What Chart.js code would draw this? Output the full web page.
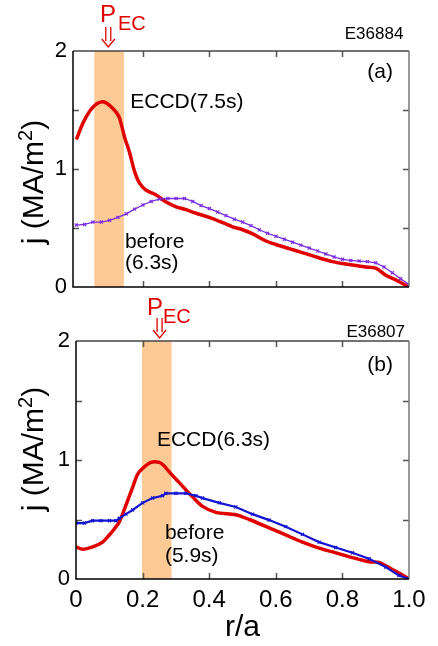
<!DOCTYPE html>
<html>
<head>
<meta charset="utf-8">
<script src="https://cdn.jsdelivr.net/npm/chart.js@4.4.1/dist/chart.umd.min.js"></script>
<style>
  body { margin: 0; background: #fff; }
  #wrap { position: relative; width: 438px; height: 646px; }
  canvas { position: absolute; left: 0; }
</style>
</head>
<body>
<div id="wrap">
  <canvas id="chartA" width="438" height="310" style="top:0"></canvas>
  <canvas id="chartB" width="438" height="353" style="top:293px"></canvas>
</div>
<script>
// radial profiles of current density, r/a vs j (MA/m2)
const rEccdA = [0, 0.02, 0.04, 0.06, 0.08, 0.10, 0.12, 0.13, 0.145, 0.16, 0.175, 0.19, 0.21, 0.24, 0.27, 0.30, 0.33, 0.36, 0.40, 0.44, 0.47, 0.50, 0.53, 0.57, 0.60, 0.64, 0.67, 0.72, 0.77, 0.82, 0.87, 0.90, 0.93, 0.96, 0.98, 1.0];
const jEccdA = [1.25, 1.39, 1.49, 1.55, 1.57, 1.54, 1.48, 1.43, 1.27, 1.14, 0.98, 0.88, 0.82, 0.78, 0.72, 0.68, 0.655, 0.625, 0.59, 0.545, 0.51, 0.485, 0.45, 0.39, 0.36, 0.325, 0.30, 0.255, 0.215, 0.19, 0.17, 0.16, 0.10, 0.06, 0.03, 0.0];

const rBeforeA = [0, 0.025, 0.05, 0.075, 0.10, 0.125, 0.15, 0.175, 0.20, 0.225, 0.25, 0.275, 0.30, 0.325, 0.35, 0.375, 0.40, 0.425, 0.45, 0.475, 0.50, 0.525, 0.55, 0.575, 0.60, 0.625, 0.65, 0.675, 0.70, 0.725, 0.75, 0.775, 0.80, 0.825, 0.85, 0.875, 0.90, 0.925, 0.95, 0.975, 1.0];
const jBeforeA = [0.525, 0.53, 0.55, 0.55, 0.565, 0.59, 0.62, 0.66, 0.695, 0.725, 0.745, 0.75, 0.75, 0.75, 0.725, 0.69, 0.665, 0.635, 0.605, 0.575, 0.55, 0.52, 0.485, 0.455, 0.43, 0.405, 0.38, 0.355, 0.33, 0.305, 0.28, 0.255, 0.235, 0.225, 0.22, 0.215, 0.205, 0.17, 0.12, 0.07, 0.02];

const rEccdB = [0, 0.02, 0.05, 0.08, 0.10, 0.115, 0.13, 0.15, 0.17, 0.185, 0.20, 0.225, 0.25, 0.265, 0.28, 0.31, 0.35, 0.38, 0.42, 0.48, 0.52, 0.58, 0.63, 0.68, 0.73, 0.78, 0.83, 0.88, 0.91, 0.95, 0.97, 1.0];
const jEccdB = [0.27, 0.25, 0.27, 0.31, 0.37, 0.42, 0.48, 0.62, 0.77, 0.88, 0.93, 0.98, 0.98, 0.95, 0.90, 0.81, 0.69, 0.61, 0.56, 0.54, 0.50, 0.43, 0.37, 0.31, 0.26, 0.22, 0.18, 0.145, 0.14, 0.08, 0.05, 0.0];

const rBeforeB = [0, 0.025, 0.05, 0.075, 0.10, 0.12, 0.13, 0.15, 0.17, 0.20, 0.23, 0.26, 0.27, 0.30, 0.33, 0.36, 0.38, 0.43, 0.48, 0.53, 0.58, 0.63, 0.68, 0.73, 0.78, 0.83, 0.88, 0.93, 0.97, 1.0];
const jBeforeB = [0.47, 0.47, 0.49, 0.49, 0.49, 0.49, 0.51, 0.545, 0.58, 0.64, 0.68, 0.70, 0.72, 0.72, 0.72, 0.70, 0.68, 0.64, 0.605, 0.545, 0.495, 0.44, 0.375, 0.31, 0.265, 0.22, 0.17, 0.10, 0.03, 0.0];

// EC deposition zones (r/a)
const bandA = [0.054, 0.143];
const bandB = [0.198, 0.287];

const xTicks = [0, 0.2, 0.4, 0.6, 0.8, 1.0];
const yTicks = [0, 0.5, 1, 1.5, 2];

const FONT = "'Liberation Sans', Arial, sans-serif";
const RED = '#e00000';

function pts(xs, ys) {
  return xs.map((x, i) => ({ x: x, y: ys[i] }));
}

// rotated axis title with a raised "2"
function drawYTitle(ctx, cx, cy) {
  const parts = [['j (MA/m', 30, 0], ['2', 20, -11], [')', 30, 0]];
  ctx.save();
  ctx.translate(cx, cy);
  ctx.rotate(-Math.PI / 2);
  ctx.fillStyle = '#000';
  ctx.textBaseline = 'alphabetic';
  ctx.textAlign = 'left';
  let w = 0;
  parts.forEach(p => { ctx.font = p[1] + 'px ' + FONT; w += ctx.measureText(p[0]).width; });
  let x = -w / 2;
  parts.forEach(p => {
    ctx.font = p[1] + 'px ' + FONT;
    ctx.fillText(p[0], x, 10 + p[2]);
    x += ctx.measureText(p[0]).width;
  });
  ctx.restore();
}

// frame, inward ticks, shaded band and text labels
const decor = {
  id: 'decor',
  beforeDatasetsDraw(chart, args, opts) {
    const { ctx, chartArea: a, scales: { x } } = chart;
    const x0 = x.getPixelForValue(opts.band[0]);
    const x1 = x.getPixelForValue(opts.band[1]);
    ctx.save();
    ctx.fillStyle = '#fdc994';
    ctx.fillRect(x0, a.top, x1 - x0, a.bottom - a.top);
    ctx.restore();
  },
  afterDraw(chart, args, opts) {
    const { ctx, chartArea: a, scales: { x, y } } = chart;
    ctx.save();
    ctx.lineWidth = 1.5;
    const tl = 6;
    ctx.strokeStyle = '#555';
    xTicks.forEach(v => {
      if (v <= 0 || v >= 1) return;
      const px = Math.round(x.getPixelForValue(v)) + 0.5;
      ctx.beginPath();
      ctx.moveTo(px, a.bottom); ctx.lineTo(px, a.bottom - tl);
      ctx.moveTo(px, a.top); ctx.lineTo(px, a.top + tl);
      ctx.stroke();
    });
    yTicks.forEach(v => {
      if (v <= 0 || v >= 2) return;
      const py = Math.round(y.getPixelForValue(v)) + 0.5;
      ctx.beginPath();
      ctx.moveTo(a.left, py); ctx.lineTo(a.left + tl, py);
      ctx.moveTo(a.right, py); ctx.lineTo(a.right - tl, py);
      ctx.stroke();
    });
    // top / right in grey, left / bottom in black
    ctx.strokeStyle = '#444';
    ctx.beginPath(); ctx.moveTo(a.left, a.top); ctx.lineTo(a.right, a.top); ctx.stroke();
    ctx.strokeStyle = '#777';
    ctx.beginPath(); ctx.moveTo(a.right, a.top); ctx.lineTo(a.right, a.bottom); ctx.stroke();
    ctx.strokeStyle = '#000';
    ctx.beginPath(); ctx.moveTo(a.left, a.top); ctx.lineTo(a.left, a.bottom); ctx.lineTo(a.right, a.bottom); ctx.stroke();

    drawYTitle(ctx, 33, a.top + opts.titleOffset);

    // text labels placed in data coordinates
    ctx.textBaseline = 'alphabetic';
    opts.labels.forEach(l => {
      ctx.font = l.size + 'px ' + FONT;
      ctx.fillStyle = l.color || '#000';
      ctx.textAlign = l.align || 'left';
      ctx.fillText(l.text, x.getPixelForValue(l.x), y.getPixelForValue(l.y));
    });

    // double arrow marking the EC launch
    const ar = opts.arrow;
    const cx = x.getPixelForValue(ar.x);
    const yt = y.getPixelForValue(ar.y0);
    const yb = y.getPixelForValue(ar.y1);
    ctx.strokeStyle = RED;
    ctx.lineWidth = 1.3;
    ctx.beginPath();
    ctx.moveTo(cx - 2.5, yt); ctx.lineTo(cx - 2.5, yb - 6);
    ctx.moveTo(cx + 2.5, yt); ctx.lineTo(cx + 2.5, yb - 6);
    ctx.moveTo(cx - 6.5, yb - 8); ctx.lineTo(cx, yb); ctx.lineTo(cx + 6.5, yb - 8);
    ctx.stroke();
    ctx.restore();
  }
};

function makePanel(id, cfg) {
  return new Chart(document.getElementById(id), {
    type: 'line',
    data: {
      datasets: [
        {
          data: pts(cfg.rBefore, cfg.jBefore),
          borderColor: cfg.beforeColor,
          borderWidth: cfg.beforeWidth,
          pointStyle: 'crossRot',
          pointRadius: 2.2,
          pointBorderWidth: 1.2,
          pointBorderColor: cfg.beforeColor,
          tension: 0,
          fill: false
        },
        {
          data: pts(cfg.rEccd, cfg.jEccd),
          borderColor: RED,
          borderWidth: 3.5,
          pointRadius: 0,
          tension: 0.3,
          fill: false
        }
      ]
    },
    options: {
      responsive: false,
      animation: false,
      events: [],
      layout: { padding: cfg.padding },
      plugins: {
        legend: { display: false },
        tooltip: { enabled: false },
        decor: { band: cfg.band, labels: cfg.labels, arrow: cfg.arrow, titleOffset: cfg.titleOffset }
      },
      scales: {
        x: {
          type: 'linear',
          min: cfg.xMin,
          max: 1,
          display: cfg.showX,
          afterBuildTicks: s => { s.ticks = xTicks.map(v => ({ value: v })); },
          afterFit: s => { s.height = cfg.xHeight; },
          grid: { display: false, drawTicks: false },
          border: { display: false },
          ticks: {
            padding: 7,
            color: '#000',
            font: { family: FONT, size: 24 },
            callback: v => v === 0 ? '0' : v.toFixed(1)
          },
          title: {
            display: true,
            text: 'r/a',
            color: '#000',
            padding: { top: 0, bottom: 0 },
            font: { family: FONT, size: 30 }
          }
        },
        y: {
          min: 0,
          max: 2,
          afterBuildTicks: s => { s.ticks = yTicks.map(v => ({ value: v })); },
          afterFit: s => { s.width = cfg.yWidth; },
          grid: { display: false, drawTicks: false },
          border: { display: false },
          ticks: {
            padding: 6,
            color: '#000',
            font: { family: FONT, size: 22 },
            callback: v => Number.isInteger(v) ? String(v) : ''
          }
        }
      }
    },
    plugins: [decor]
  });
}

makePanel('chartA', {
  rEccd: rEccdA, jEccd: jEccdA,
  rBefore: rBeforeA, jBefore: jBeforeA,
  beforeColor: '#7a2ee0', beforeWidth: 1.3,
  band: bandA,
  xMin: -0.01, showX: false, xHeight: 0, yWidth: 73,
  padding: { left: 0, top: 51, right: 29, bottom: 23 },
  titleOffset: 131,
  arrow: { x: 0.096, y0: 2.203, y1: 2.034 },
  labels: [
    { text: 'P', x: 0.071, y: 2.246, size: 24, color: RED },
    { text: 'EC', x: 0.125, y: 2.178, size: 20, color: RED },
    { text: 'E36884', x: 0.983, y: 2.10, size: 17, align: 'right' },
    { text: '(a)', x: 0.952, y: 1.77, size: 21, align: 'right' },
    { text: 'ECCD(7.5s)', x: 0.162, y: 1.517, size: 21 },
    { text: 'before', x: 0.146, y: 0.33, size: 21 },
    { text: '(6.3s)', x: 0.146, y: 0.15, size: 21 }
  ]
});

makePanel('chartB', {
  rEccd: rEccdB, jEccd: jEccdB,
  rBefore: rBeforeB, jBefore: jBeforeB,
  beforeColor: '#1414d2', beforeWidth: 2.2,
  band: bandB,
  xMin: 0, showX: true, xHeight: 67, yWidth: 76,
  padding: { left: 0, top: 48, right: 29, bottom: 0 },
  titleOffset: 108,
  arrow: { x: 0.251, y0: 2.193, y1: 2.025 },
  labels: [
    { text: 'P', x: 0.213, y: 2.218, size: 24, color: RED },
    { text: 'EC', x: 0.261, y: 2.151, size: 20, color: RED },
    { text: 'E36807', x: 0.988, y: 2.035, size: 17, align: 'right' },
    { text: '(b)', x: 0.952, y: 1.748, size: 21, align: 'right' },
    { text: 'ECCD(6.3s)', x: 0.243, y: 1.118, size: 21 },
    { text: 'before', x: 0.267, y: 0.336, size: 21 },
    { text: '(5.9s)', x: 0.267, y: 0.143, size: 21 }
  ]
});
</script>
</body>
</html>
